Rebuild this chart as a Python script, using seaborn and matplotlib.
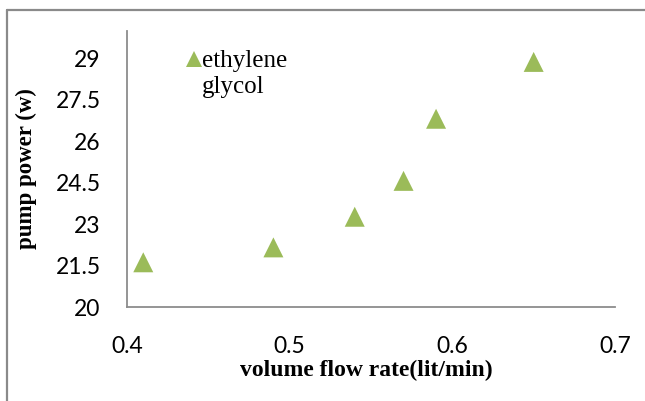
import matplotlib
matplotlib.use("Agg")
import matplotlib.pyplot as plt
import seaborn as sns
import pandas as pd
from matplotlib.lines import Line2D

# data
flow_rate = [0.41, 0.49, 0.54, 0.57, 0.59, 0.65]
pump_power = [21.62, 22.16, 23.27, 24.57, 26.82, 28.88]
series_name = "ethylene\nglycol"
x_ticks = [0.4, 0.5, 0.6, 0.7]
y_ticks = [20, 21.5, 23, 24.5, 26, 27.5, 29]
y_tick_labels = ["20", "21.5", "23", "24.5", "26", "27.5", "29"]

sns.set_style("white")
plt.rcParams["font.family"] = ["Lato", "DejaVu Sans"]
plt.rcParams["text.color"] = "black"
plt.rcParams["axes.labelcolor"] = "black"

df = pd.DataFrame({"x": flow_rate, "y": pump_power, "series": series_name})

W, H = 645, 401
fig = plt.figure(figsize=(W / 100, H / 100), dpi=100)
L, R, T, B = 127, 615, 31, 307
ax = fig.add_axes([L / W, 1 - B / H, (R - L) / W, (B - T) / H])

green = "#9BBB59"
sns.scatterplot(data=df, x="x", y="y", hue="series", palette=[green],
                marker="^", s=207, linewidth=0, ax=ax)

ax.set_xlim(0.4, 0.7)
ax.set_ylim(20, 30)
ax.set_xticks(x_ticks)
ax.set_xticklabels([f"{v:.1f}" for v in x_ticks])
ax.set_yticks(y_ticks)
ax.set_yticklabels(y_tick_labels)
ax.tick_params(axis="both", length=0, labelsize=16.5, colors="black")
ax.tick_params(axis="x", pad=21)
ax.tick_params(axis="y", pad=19)

for side in ["top", "right"]:
    ax.spines[side].set_visible(False)
for side in ["left", "bottom"]:
    ax.spines[side].set_color("#8c8c8c")
    ax.spines[side].set_linewidth(1.3)

serif = ["Liberation Serif", "DejaVu Serif"]
ax.set_xlabel("volume flow rate(lit/min)", fontsize=17, fontweight="bold",
              family=serif)
ax.xaxis.set_label_coords(0.49, -0.192)
ax.set_ylabel("pump power (w)", fontsize=16.5, fontweight="bold",
              family=serif, labelpad=13)

leg = ax.legend(loc="upper left", bbox_to_anchor=(173 / W, 1 - 38 / H),
                bbox_transform=fig.transFigure, frameon=False, borderpad=0,
                markerscale=0.8, handletextpad=0.0, handlelength=0.65,
                prop={"family": serif, "size": 18})
for t in leg.get_texts():
    t.set_color("black")
# put the marker beside the first line of the wrapped label
for col in leg._legend_handle_box.get_children():
    for row in col.get_children():
        row.align = "top"

# chart-area border (left and top edges visible)
fig.add_artist(Line2D([6.5 / W, 6.5 / W], [0, 1 - 10 / H],
                      transform=fig.transFigure, color="#8a8a8a", linewidth=1.6))
fig.add_artist(Line2D([6.5 / W, 1], [1 - 10 / H, 1 - 10 / H],
                      transform=fig.transFigure, color="#8a8a8a", linewidth=1.6))

fig.savefig("out.png", dpi=100)
